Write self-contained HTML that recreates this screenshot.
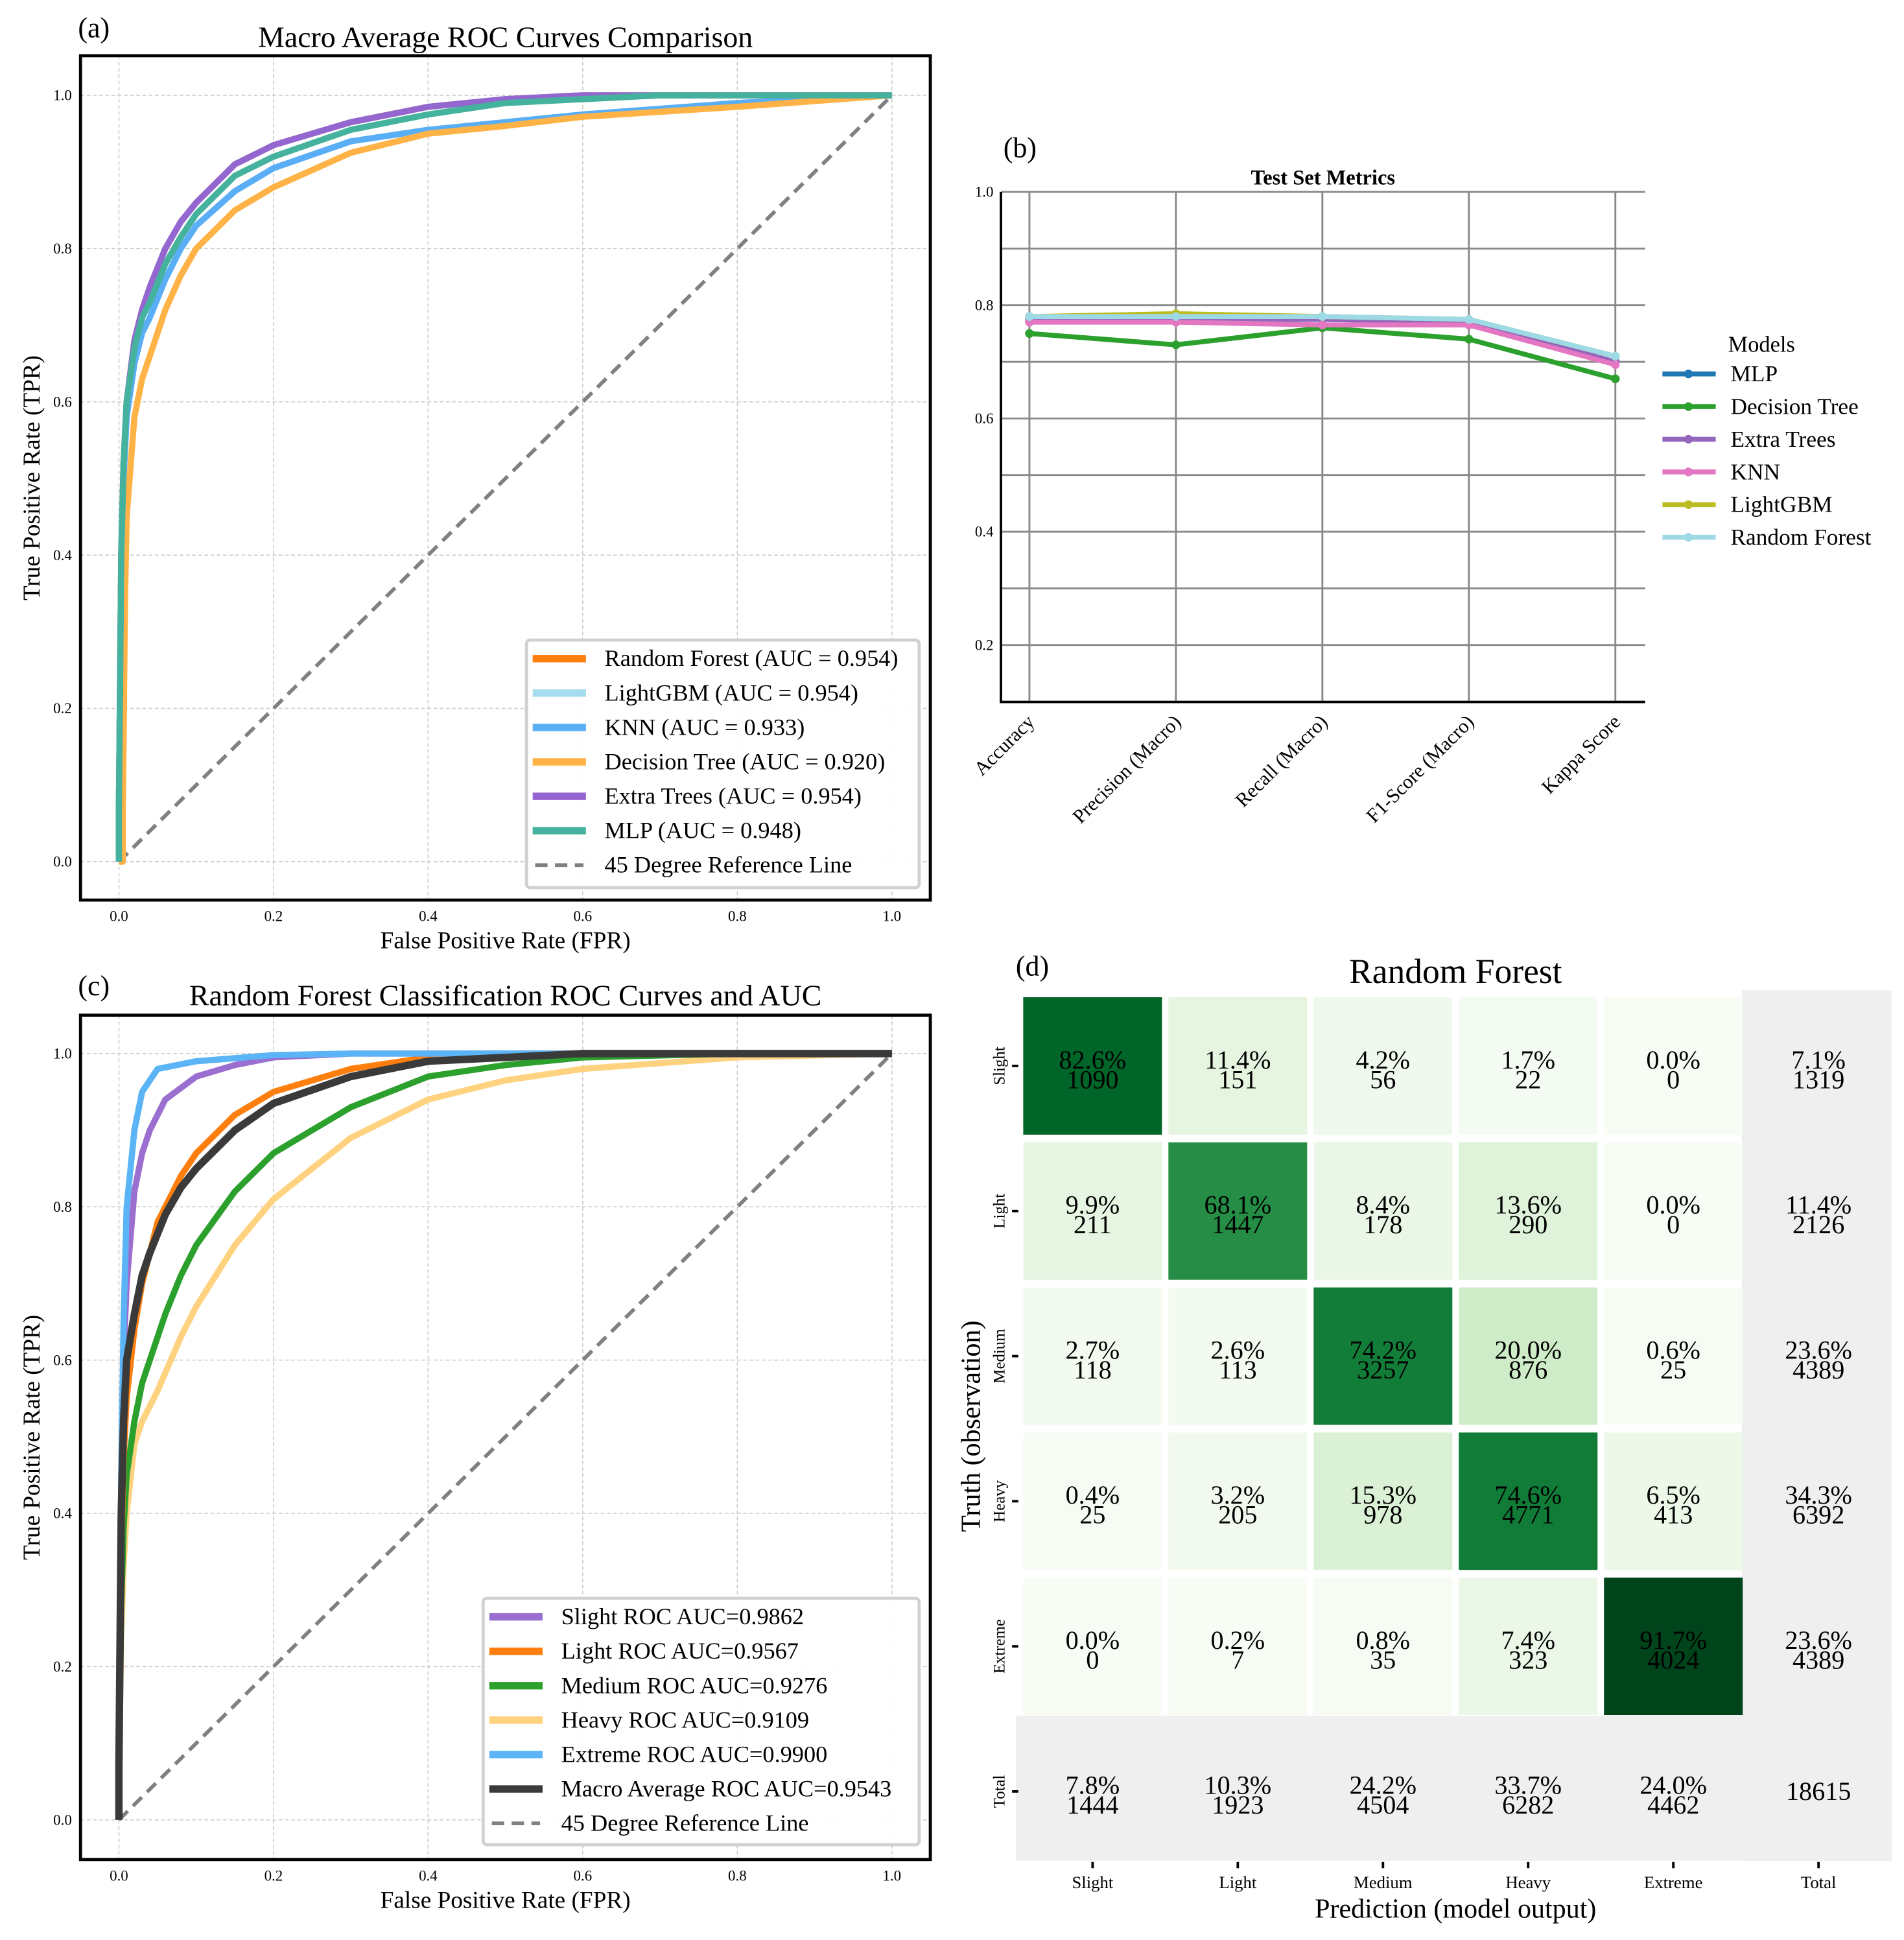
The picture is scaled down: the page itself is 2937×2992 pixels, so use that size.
<!DOCTYPE html>
<html><head><meta charset="utf-8"><style>
html,body{margin:0;padding:0;background:#fff}
svg{display:block;font-family:"Liberation Serif",serif}
text{font-family:"Liberation Serif",serif}
</style></head><body>
<svg id="fig" width="2937" height="2992" viewBox="0 0 1537 1567" preserveAspectRatio="none" xmlns="http://www.w3.org/2000/svg">
<g id="pa"></g>
<g id="pb"></g>
<g id="pc"></g>
<g id="pd"></g>
</svg>
<script>
// ---- Panel (a) data ----
const aNames = ["Random Forest (AUC = 0.954)","LightGBM (AUC = 0.954)","KNN (AUC = 0.933)","Decision Tree (AUC = 0.920)","Extra Trees (AUC = 0.954)","MLP (AUC = 0.948)"];
const aColors = ["#ff7f0e","#a6dcef","#5aaef5","#ffb347","#9467d0","#45b29d"];
const aFprTop = [0,0,0.003,0.006,0.01,0.02,0.03,0.04,0.06,0.08,0.1,0.15,0.2,0.3,0.4,0.5,0.6,1];
const aTprTop = [0,0.07,0.4,0.52,0.6,0.68,0.72,0.75,0.8,0.835,0.86,0.91,0.935,0.965,0.985,0.995,1,1];
const aFprMLP = [0,0,0.003,0.006,0.01,0.02,0.03,0.04,0.06,0.08,0.1,0.15,0.2,0.3,0.4,0.5,0.7,1];
const aTprMLP = [0,0.07,0.4,0.52,0.6,0.67,0.71,0.73,0.78,0.815,0.845,0.895,0.92,0.955,0.975,0.99,1,1];
const aFprKNN = [0,0,0.003,0.006,0.01,0.02,0.03,0.04,0.06,0.08,0.1,0.15,0.2,0.3,0.4,0.5,0.6,0.8,1];
const aTprKNN = [0,0.07,0.38,0.5,0.58,0.65,0.69,0.71,0.76,0.8,0.83,0.875,0.905,0.94,0.955,0.965,0.975,0.99,1];
const aFprDT = [0,0.005,0.005,0.008,0.01,0.02,0.03,0.04,0.06,0.08,0.1,0.15,0.2,0.3,0.4,0.5,0.6,0.8,1];
const aTprDT = [0,0,0.07,0.35,0.45,0.58,0.63,0.66,0.72,0.765,0.8,0.85,0.88,0.925,0.95,0.96,0.972,0.985,1];
// ---- Panel (b) data ----
const bMetrics = ["Accuracy","Precision (Macro)","Recall (Macro)","F1-Score (Macro)","Kappa Score"];
const bModels = ["MLP","Decision Tree","Extra Trees","KNN","LightGBM","Random Forest"];
const bColors = ["#1f77b4","#2ca02c","#9467bd","#e377c2","#bcbd22","#9edae5"];
const bMLP = [0.775,0.775,0.775,0.77,0.70];
const bDT = [0.75,0.73,0.76,0.74,0.67];
const bET = [0.775,0.775,0.775,0.77,0.70];
const bKNN = [0.77,0.77,0.765,0.765,0.695];
const bLGBM = [0.78,0.785,0.78,0.775,0.71];
const bRF = [0.78,0.78,0.78,0.775,0.71];
const bYTicks = [0.2,0.4,0.6,0.8,1.0];
// ---- Panel (c) data ----
const cNames = ["Slight ROC  AUC=0.9862","Light ROC  AUC=0.9567","Medium ROC  AUC=0.9276","Heavy ROC  AUC=0.9109","Extreme ROC  AUC=0.9900","Macro Average ROC  AUC=0.9543"];
const cColors = ["#9b6fd0","#ff7f0e","#2ca02c","#ffd27f","#5ab4f5","#3a3a3a"];
const cFprSlight = [0,0,0.003,0.006,0.01,0.02,0.03,0.04,0.06,0.08,0.1,0.15,0.2,0.3,1];
const cTprSlight = [0,0.07,0.45,0.6,0.7,0.82,0.87,0.9,0.94,0.955,0.97,0.985,0.995,1,1];
const cFprLight = [0,0,0.003,0.006,0.01,0.02,0.03,0.05,0.08,0.1,0.15,0.2,0.3,0.4,0.5,1];
const cTprLight = [0,0.07,0.35,0.47,0.55,0.64,0.7,0.78,0.84,0.87,0.92,0.95,0.98,0.995,1,1];
const cFprMedium = [0,0,0.003,0.006,0.01,0.02,0.03,0.04,0.06,0.08,0.1,0.15,0.2,0.3,0.4,0.5,0.6,0.8,1];
const cTprMedium = [0,0.07,0.28,0.38,0.45,0.52,0.57,0.6,0.66,0.71,0.75,0.82,0.87,0.93,0.97,0.985,0.995,1,1];
const cFprHeavy = [0,0,0.003,0.006,0.01,0.02,0.03,0.05,0.08,0.1,0.15,0.2,0.3,0.4,0.5,0.6,0.8,1];
const cTprHeavy = [0,0.07,0.24,0.33,0.4,0.49,0.52,0.56,0.63,0.67,0.75,0.81,0.89,0.94,0.965,0.98,0.995,1];
const cFprExtreme = [0,0,0.003,0.006,0.01,0.02,0.03,0.05,0.1,0.2,0.3,1];
const cTprExtreme = [0,0.07,0.45,0.65,0.8,0.9,0.95,0.98,0.99,0.998,1,1];
const cFprMacro = [0,0,0.003,0.006,0.01,0.02,0.03,0.04,0.06,0.08,0.1,0.15,0.2,0.3,0.4,0.5,0.6,1];
const cTprMacro = [0,0.07,0.4,0.52,0.6,0.66,0.71,0.74,0.79,0.825,0.85,0.9,0.935,0.97,0.99,0.995,1,1];
const rocTicks = [0,0.2,0.4,0.6,0.8,1.0];
// ---- Panel (d) data ----
const dClasses = ["Slight","Light","Medium","Heavy","Extreme"];
const dCounts = [[1090,151,56,22,0],[211,1447,178,290,0],[118,113,3257,876,25],[25,205,978,4771,413],[0,7,35,323,4024]];
const dPct = [[82.6,11.4,4.2,1.7,0.0],[9.9,68.1,8.4,13.6,0.0],[2.7,2.6,74.2,20.0,0.6],[0.4,3.2,15.3,74.6,6.5],[0.0,0.2,0.8,7.4,91.7]];
const dRowTotPct = [7.1,11.4,23.6,34.3,23.6];
const dRowTot = [1319,2126,4389,6392,4389];
const dColTotPct = [7.8,10.3,24.2,33.7,24.0];
const dColTot = [1444,1923,4504,6282,4462];
const dGrand = 18615;

const NS="http://www.w3.org/2000/svg";
function mk(parent,tag,attrs,text){const e=document.createElementNS(NS,tag);for(const k in attrs)e.setAttribute(k,attrs[k]);if(tag==='text')e.setAttribute('font-family','Liberation Serif, serif');if(text!==undefined)e.textContent=text;parent.appendChild(e);return e;}

function rocPanel(g,box,title,label,titleY){
  const sx=v=>96+v*624, sy=v=>box.y0+v*(box.y1-box.y0);
  const t=mk(g,'text',{x:63,y:titleY-8,'font-size':23},label);
  
  
  const tt=mk(g,'text',{x:408,y:titleY,'font-size':24,'text-anchor':'middle'},title);
  
  
  rocTicks.forEach(v=>{
    const gl=mk(g,'line',{x1:sx(v),x2:sx(v),y1:box.top,y2:box.bot,stroke:'#c8c8c8','stroke-width':0.8,'stroke-dasharray':'3,2'});
    
    
    const gh=mk(g,'line',{x1:65,x2:751,y1:sy(v),y2:sy(v),stroke:'#c8c8c8','stroke-width':0.8,'stroke-dasharray':'3,2'});
    
    
    const xl=mk(g,'text',{x:sx(v),y:box.bot+17,'font-size':12,'text-anchor':'middle'},v.toFixed(1));
    
    
    const yl=mk(g,'text',{x:58,y:sy(v)+4,'font-size':12,'text-anchor':'end'},v.toFixed(1));
    
    
  });
  const xa=mk(g,'text',{x:408,y:box.bot+39,'font-size':19.5,'text-anchor':'middle'},'False Positive Rate (FPR)');
  
  
  const cy=(box.top+box.bot)/2;
  const ya=mk(g,'text',{x:32,y:cy,'font-size':19.5,'text-anchor':'middle',transform:`rotate(-90 32 ${cy})`},'True Positive Rate (TPR)');
  
  
  return {sx,sy};
}
function curve(g,s,xs,ys,color,w,name){
  const p=mk(g,'polyline',{points:xs.map((x,i)=>s.sx(x)+','+s.sy(ys[i])).join(' '),fill:'none',stroke:color,'stroke-width':w,'stroke-linejoin':'round'});
  
  
}
function refLine(g,s){
  const l=mk(g,'line',{x1:s.sx(0),y1:s.sy(0),x2:s.sx(1),y2:s.sy(1),stroke:'#808080','stroke-width':3,'stroke-dasharray':'10,6'});
  
  
}
function legend(g,x0,y0,x1,y1,names,colors,firstY,step){
  const lg=mk(g,'g',{});
  
  
  mk(lg,'rect',{x:x0,y:y0,width:x1-x0,height:y1-y0,fill:'#fff','fill-opacity':0.9,stroke:'#d0d0d0','stroke-width':2.5,rx:3});
  names.concat(['45 Degree Reference Line']).forEach((n,i)=>{
    const e=mk(lg,'g',{});
    
    
    const y=firstY+i*step;
    if(i<names.length) mk(e,'line',{x1:x0+5,x2:x0+48,y1:y,y2:y,stroke:colors[i],'stroke-width':6});
    else mk(e,'line',{x1:x0+7,x2:x0+46,y1:y,y2:y,stroke:'#808080','stroke-width':3,'stroke-dasharray':'10,6'});
    mk(e,'text',{x:x0+63,y:y+6,'font-size':19},n);
  });
}

// Panel A
(function(){
  const g=document.getElementById('pa');
  const s=rocPanel(g,{top:45,bot:727,y0:696,y1:77},'Macro Average ROC Curves Comparison','(a)',38);
  refLine(g,s);
  curve(g,s,aFprTop,aTprTop,aColors[0],5,'curve-random-forest');
  curve(g,s,aFprTop,aTprTop,aColors[1],5,'curve-lightgbm');
  curve(g,s,aFprKNN,aTprKNN,aColors[2],5,'curve-knn');
  curve(g,s,aFprDT,aTprDT,aColors[3],5,'curve-decision-tree');
  curve(g,s,aFprTop,aTprTop,aColors[4],5,'curve-extra-trees');
  curve(g,s,aFprMLP,aTprMLP,aColors[5],5,'curve-mlp');
  const f=mk(g,'rect',{x:65,y:45,width:686,height:682,fill:'none',stroke:'#000','stroke-width':2.5});
  
  
  legend(g,425,517,742,717,aNames,aColors,532,27.8);
})();

// Panel C
(function(){
  const g=document.getElementById('pc');
  const s=rocPanel(g,{top:820,bot:1502,y0:1470,y1:851},'Random Forest Classification ROC Curves and AUC','(c)',812);
  refLine(g,s);
  curve(g,s,cFprHeavy,cTprHeavy,cColors[3],5,'curve-heavy');
  curve(g,s,cFprMedium,cTprMedium,cColors[2],5,'curve-medium');
  curve(g,s,cFprLight,cTprLight,cColors[1],5,'curve-light');
  curve(g,s,cFprSlight,cTprSlight,cColors[0],5,'curve-slight');
  curve(g,s,cFprExtreme,cTprExtreme,cColors[4],5,'curve-extreme');
  curve(g,s,cFprMacro,cTprMacro,cColors[5],6,'curve-macro-average');
  const f=mk(g,'rect',{x:65,y:820,width:686,height:682,fill:'none',stroke:'#000','stroke-width':2.5});
  
  
  legend(g,390,1291,742,1490,cNames,cColors,1306,27.8);
})();

// Panel B
(function(){
  const g=document.getElementById('pb');
  const sy=v=>612.5-v*457.5;
  const sx=i=>831+i*118.25;
  const lb=mk(g,'text',{x:810,y:127,'font-size':23},'(b)');
  
  
  const tt=mk(g,'text',{x:1068,y:149,'font-size':17,'font-weight':'bold','text-anchor':'middle'},'Test Set Metrics');
  
  
  for(let k=1;k<=10;k++){
    const gl=mk(g,'line',{x1:808,x2:1328,y1:sy(k/10),y2:sy(k/10),stroke:'#888','stroke-width':1.5});
    
    
  }
  bMetrics.forEach((m,i)=>{
    const gl=mk(g,'line',{x1:sx(i),x2:sx(i),y1:155,y2:567,stroke:'#888','stroke-width':1.5});
    
    
    const x=sx(i)+5,y=584;
    const t=mk(g,'text',{x:x,y:y,'font-size':16,'text-anchor':'end',transform:`rotate(-45 ${x} ${y})`},m);
    
    
  });
  bYTicks.forEach(v=>{
    const t=mk(g,'text',{x:802,y:sy(v)+4,'font-size':12,'text-anchor':'end'},v.toFixed(1));
    
    
  });
  const ax=mk(g,'path',{d:'M808 155 V567 H1328',fill:'none',stroke:'#000','stroke-width':2});
  
  
  const series=[bMLP,bDT,bET,bKNN,bLGBM,bRF];
  series.forEach((arr,j)=>{
    const sg=mk(g,'g',{});
    
    
    mk(sg,'polyline',{points:arr.map((v,i)=>sx(i)+','+sy(v)).join(' '),fill:'none',stroke:bColors[j],'stroke-width':4});
    arr.forEach((v,i)=>mk(sg,'circle',{cx:sx(i),cy:sy(v),r:3.5,fill:bColors[j]}));
  });
  const lg=mk(g,'g',{});
  
  
  mk(lg,'text',{x:1422,y:284,'font-size':18,'text-anchor':'middle'},'Models');
  bModels.forEach((m,j)=>{
    const e=mk(lg,'g',{});
    
    
    const y=302+j*26.4;
    mk(e,'line',{x1:1342,x2:1385,y1:y,y2:y,stroke:bColors[j],'stroke-width':4});
    mk(e,'circle',{cx:1363,cy:y,r:3.5,fill:bColors[j]});
    mk(e,'text',{x:1397,y:y+6,'font-size':18.5},m);
  });
})();

// Panel D
(function(){
  const g=document.getElementById('pd');
  const stops=['#f7fcf5','#e5f5e0','#c7e9c0','#a1d99b','#74c476','#41ab5d','#238b45','#006d2c','#00441b'];
  function hex(c){return [1,3,5].map(i=>parseInt(c.substr(i,2),16));}
  function greens(t){t=Math.max(0,Math.min(1,t))*8;const i=Math.min(7,Math.floor(t)),f=t-i;const a=hex(stops[i]),b=hex(stops[i+1]);return 'rgb('+a.map((v,k)=>Math.round(v+(b[k]-v)*f)).join(',')+')';}
  const cx=i=>882+i*117.2, cyf=i=>861+i*117.2;
  const lb=mk(g,'text',{x:820,y:788,'font-size':23},'(d)');
  
  
  const tt=mk(g,'text',{x:1175,y:794,'font-size':28,'text-anchor':'middle'},'Random Forest');
  
  
  const bg1=mk(g,'rect',{x:1406,y:800,width:121,height:703,fill:'#efefef'});
  
  
  const bg2=mk(g,'rect',{x:820,y:1386,width:707,height:117,fill:'#efefef'});
  
  
  let mx=0;dPct.forEach(r=>r.forEach(v=>{if(v>mx)mx=v;}));
  function label(x,y,a,b,name){
    const t=mk(g,'text',{x:x,y:y+5,'font-size':21,'text-anchor':'middle'});
    
    
    mk(t,'tspan',{x:x},a);
    if(b!==undefined) mk(t,'tspan',{x:x,dy:16},b);
  }
  dPct.forEach((row,r)=>row.forEach((v,c)=>{
    const rc=mk(g,'rect',{x:cx(c)-56,y:cyf(r)-55.5,width:112,height:111,fill:greens(v/mx)});
    
    
    label(cx(c),cyf(r)-3,v.toFixed(1)+'%',String(dCounts[r][c]),'cell-label');
  }));
  dRowTot.forEach((n,r)=>label(cx(5),cyf(r)-3,dRowTotPct[r].toFixed(1)+'%',String(n),'row-total-label'));
  dColTot.forEach((n,c)=>label(cx(c),cyf(5)-3,dColTotPct[c].toFixed(1)+'%',String(n),'column-total-label'));
  label(cx(5),cyf(5)+2,String(dGrand),undefined,'grand-total-label');
  const rows=dClasses.concat(['Total']);
  rows.forEach((n,i)=>{
    const x=811,y=cyf(i);
    const t=mk(g,'text',{x:x,y:y,'font-size':13,'text-anchor':'middle',transform:`rotate(-90 ${x} ${y})`},n);
    
    
    mk(g,'line',{x1:817,x2:822,y1:y,y2:y,stroke:'#000','stroke-width':2});
    const x2=cx(i);
    mk(g,'line',{x1:x2,x2:x2,y1:1504,y2:1509,stroke:'#000','stroke-width':2});
    const t2=mk(g,'text',{x:x2,y:1525,'font-size':14,'text-anchor':'middle'},n);
    
    
  });
  const xa=mk(g,'text',{x:1175,y:1549,'font-size':22,'text-anchor':'middle'},'Prediction (model output)');
  
  
  const ya=mk(g,'text',{x:791,y:1152,'font-size':22,'text-anchor':'middle',transform:'rotate(-90 791 1152)'},'Truth (observation)');
  
  
})();
</script>
</body></html>
